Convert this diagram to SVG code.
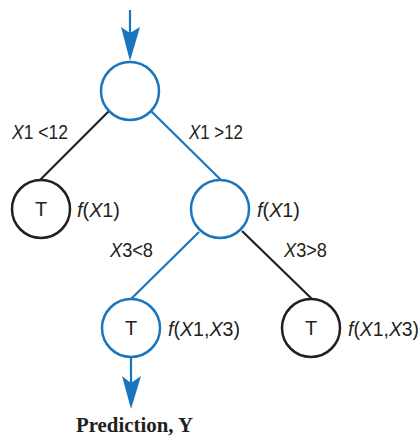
<svg xmlns="http://www.w3.org/2000/svg" width="420" height="436" viewBox="0 0 420 436">
<style>
.b{stroke:#1b75bc;fill:none;stroke-width:2.5}
.k{stroke:#231f20;fill:none;stroke-width:2.5}
.lb{stroke:#1b75bc;stroke-width:2.2}
.lk{stroke:#231f20;stroke-width:2.2}
text{font-family:"Liberation Sans",Arial,sans-serif;font-size:20px;fill:#231f20}
.i{font-style:italic}
.t{text-anchor:middle;font-size:20px}
.p{font-family:"Liberation Serif","Times New Roman",serif;font-weight:bold;font-size:21px}
</style>
<rect width="420" height="436" fill="#fff"/>
<g id="connectors">
<line class="lb" x1="130" y1="10" x2="130" y2="40"/>
<polygon points="130,61 121,27 130,33 140,27" fill="#1b75bc"/>
<line class="lk" x1="109" y1="111" x2="40" y2="180"/>
<line class="lb" x1="151" y1="111" x2="221" y2="180"/>
<line class="lb" x1="199" y1="232" x2="131" y2="299"/>
<line class="lk" x1="242" y1="231" x2="312" y2="299"/>
<line class="lb" x1="131" y1="357" x2="131" y2="385"/>
<polygon points="131,409 122,376 131,383 141,376" fill="#1b75bc"/>
<text x="12" y="139" textLength="56" lengthAdjust="spacingAndGlyphs"><tspan class="i">X</tspan>1 &lt;12</text>
<text x="189" y="139" textLength="54" lengthAdjust="spacingAndGlyphs"><tspan class="i">X</tspan>1 &gt;12</text>
<text x="110" y="257" textLength="43" lengthAdjust="spacingAndGlyphs"><tspan class="i">X</tspan>3&lt;8</text>
<text x="284" y="257" textLength="43" lengthAdjust="spacingAndGlyphs"><tspan class="i">X</tspan>3&gt;8</text>
</g>
<g id="root"><circle class="b" cx="130" cy="91" r="29"/></g>
<g id="leafA">
<circle class="k" cx="41" cy="209" r="29"/>
<text class="t" x="41" y="216">T</text>
<text x="77" y="217" textLength="43" lengthAdjust="spacingAndGlyphs"><tspan class="i">f</tspan>(<tspan class="i">X</tspan>1)</text>
</g>
<g id="nodeB">
<circle class="b" cx="220" cy="209" r="29"/>
<text x="257" y="217" textLength="43" lengthAdjust="spacingAndGlyphs"><tspan class="i">f</tspan>(<tspan class="i">X</tspan>1)</text>
</g>
<g id="leafC">
<circle class="b" cx="131" cy="328" r="29"/>
<text class="t" x="131" y="335">T</text>
<text x="168" y="336" textLength="72" lengthAdjust="spacingAndGlyphs"><tspan class="i">f</tspan>(<tspan class="i">X</tspan>1,<tspan class="i">X</tspan>3)</text>
</g>
<g id="leafD">
<circle class="k" cx="311" cy="328" r="29"/>
<text class="t" x="311" y="335">T</text>
<text x="348" y="336" textLength="71" lengthAdjust="spacingAndGlyphs"><tspan class="i">f</tspan>(<tspan class="i">X</tspan>1,<tspan class="i">X</tspan>3)</text>
</g>
<g id="output"><text class="p" x="76" y="432" textLength="117" lengthAdjust="spacingAndGlyphs">Prediction, Y</text></g>
</svg>
